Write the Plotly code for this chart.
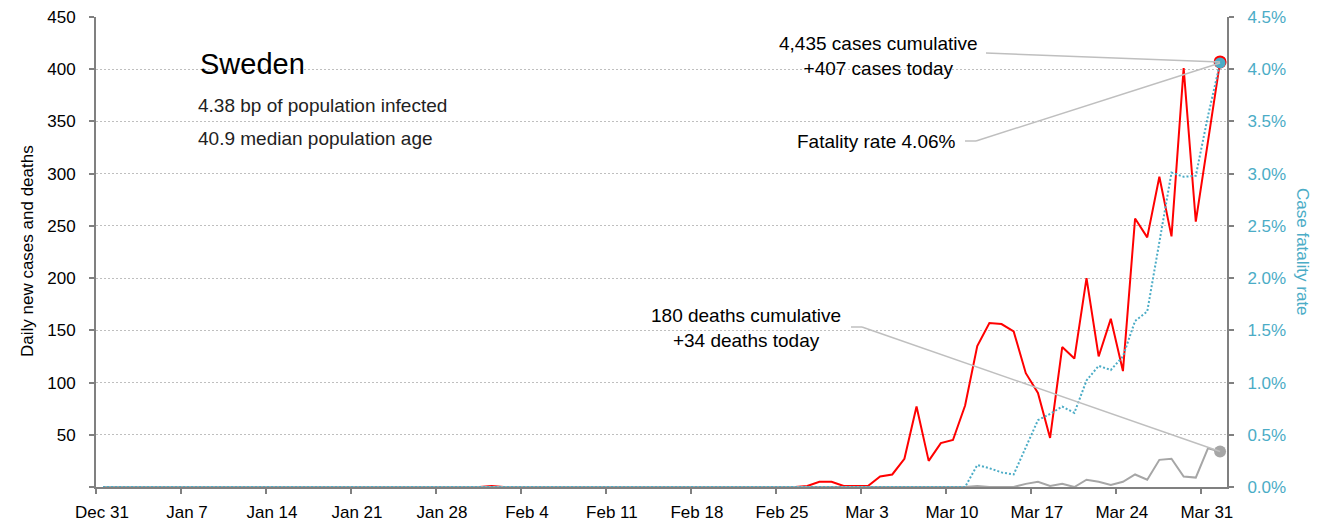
"""Sweden - daily new cases, deaths and case fatality rate"""

import pandas as pd
import plotly.graph_objects as go

# ---- data ----
dates = pd.date_range("2019-12-31", "2020-04-01", freq="D")

# daily new cases
cases = (
    [0] * 32 + [1] + [0] * 25
    + [1, 5, 5, 1, 1, 1, 10, 12, 27, 77, 25, 42, 45, 78, 135, 157, 156, 149,
       109, 90, 47, 134, 123, 200, 125, 161, 111, 257, 239, 297, 240, 401, 254, 330, 407]
)

# daily new deaths
deaths = (
    [0] * 72
    + [1, 0, 0, 0, 3, 5, 1, 3, 0, 7, 5, 2, 5, 12, 7, 26, 27, 10, 9, 37, 34]
)

# case fatality rate (cumulative deaths / cumulative cases)
fatality_rate = (
    [0] * 72
    + [0.0021, 0.0018, 0.0014, 0.0012, 0.0038, 0.0064, 0.0070, 0.0077, 0.0071,
       0.0102, 0.0116, 0.0112, 0.0125, 0.0159, 0.0168, 0.0235, 0.0301, 0.0297,
       0.0298, 0.0355, 0.0406]
)

tick_dates = pd.date_range("2019-12-31", "2020-03-31", freq="7D")
tick_labels = [f"{d:%b} {d.day}" for d in tick_dates]

country = "Sweden"
infected_bp = "4.38"
median_age = "40.9"
cum_cases = 4435
cum_deaths = 180

FONT = "Liberation Sans"
RED = "#ff0000"
GREY = "#a6a6a6"
TEAL = "#4bacc6"
AXIS = "#808080"
LEADER = "#bfbfbf"

# plot area in pixels (for placing leader lines / labels)
PX_L, PX_R, PX_T, PX_B = 96, 1227, 17, 487
x_start = dates[0] - pd.Timedelta(hours=14)
x_end = dates[-1] + pd.Timedelta(hours=13.7)


def px_x(px):
    return x_start + (x_end - x_start) * ((px - PX_L) / (PX_R - PX_L))


def px_y(py, top=450):
    return (PX_B - py) / (PX_B - PX_T) * top


fig = go.Figure()

fig.add_trace(go.Scatter(x=dates, y=cases, mode="lines", name="Cases",
                         line=dict(color=RED, width=2)))
fig.add_trace(go.Scatter(x=dates, y=deaths, mode="lines", name="Deaths",
                         line=dict(color=GREY, width=2)))
fig.add_trace(go.Scatter(x=dates, y=fatality_rate, mode="lines", name="Fatality rate",
                         yaxis="y2", line=dict(color=TEAL, width=2, dash="2px,2px")))

# end-of-series dots
fig.add_trace(go.Scatter(x=[dates[-1]], y=[cases[-1]], mode="markers",
                         marker=dict(size=13, color=RED)))
fig.add_trace(go.Scatter(x=[dates[-1]], y=[deaths[-1]], mode="markers",
                         marker=dict(size=12, color=GREY)))
fig.add_trace(go.Scatter(x=[dates[-1]], y=[fatality_rate[-1]], mode="markers",
                         yaxis="y2", marker=dict(size=11, color=TEAL)))

# leader lines
shapes = [
    dict(type="line", xref="x", yref="y", x0=px_x(986), y0=px_y(53),
         x1=dates[-1], y1=cases[-1]),
    dict(type="line", xref="x", yref="y", x0=px_x(965), y0=px_y(141),
         x1=px_x(976), y1=px_y(141)),
    dict(type="line", xref="x", yref="y2", x0=px_x(976), y0=px_y(141, 0.045),
         x1=dates[-1], y1=fatality_rate[-1]),
    dict(type="line", xref="x", yref="y", x0=px_x(851), y0=px_y(327),
         x1=px_x(862), y1=px_y(327)),
    dict(type="line", xref="x", yref="y", x0=px_x(862), y0=px_y(327),
         x1=dates[-1], y1=deaths[-1]),
]
for s in shapes:
    s["line"] = dict(color=LEADER, width=1.5)
    s["layer"] = "above"


def paper_x(px):
    return (px - PX_L) / (PX_R - PX_L)


def paper_y(py):
    return (PX_B - py) / (PX_B - PX_T)


annotations = [
    dict(text=country, x=paper_x(198), y=paper_y(64), xanchor="left", yanchor="middle",
         font=dict(size=29, color="#000000")),
    dict(text=f"{infected_bp} bp of population infected", x=paper_x(196), y=paper_y(105),
         xanchor="left", yanchor="middle", font=dict(size=19, color="#222222")),
    dict(text=f"{median_age} median population age", x=paper_x(196), y=paper_y(138),
         xanchor="left", yanchor="middle", font=dict(size=19, color="#222222")),
    dict(text=f"{cum_cases:,} cases cumulative<br>+{cases[-1]} cases today",
         x=paper_x(878), y=paper_y(56), xanchor="center", yanchor="middle",
         font=dict(size=19, color="#000000")),
    dict(text=f"Fatality rate {fatality_rate[-1]:.2%}", x=paper_x(958), y=paper_y(141),
         xanchor="right", yanchor="middle", font=dict(size=19, color="#000000")),
    dict(text=f"{cum_deaths} deaths cumulative<br>+{deaths[-1]} deaths today",
         x=paper_x(746), y=paper_y(328), xanchor="center", yanchor="middle",
         font=dict(size=19, color="#000000")),
    # axis titles
    dict(text="Daily new cases and deaths", x=paper_x(27), y=paper_y(251),
         textangle=-90, xanchor="center", yanchor="middle",
         font=dict(size=17, color="#000000")),
    dict(text="Case fatality rate", x=paper_x(1303), y=paper_y(252),
         textangle=90, xanchor="center", yanchor="middle",
         font=dict(size=17, color=TEAL)),
]
for a in annotations:
    a.update(xref="paper", yref="paper", showarrow=False)

fig.update_layout(
    width=1327,
    height=526,
    margin=dict(l=PX_L, r=1327 - PX_R, t=PX_T, b=526 - PX_B),
    paper_bgcolor="white",
    plot_bgcolor="white",
    showlegend=False,
    font=dict(family=FONT, size=17, color="#000000"),
    shapes=shapes,
    annotations=annotations,
    xaxis=dict(
        range=[x_start, x_end],
        tickvals=[d - pd.Timedelta(hours=14) for d in tick_dates],
        ticktext=tick_labels,
        ticks="outside", ticklen=5, tickwidth=2, tickcolor=AXIS,
        ticklabelshift=6, ticklabelstandoff=4,
        showline=True, linecolor=AXIS, linewidth=2,
        showgrid=False, zeroline=False, automargin=False,
        layer="below traces",
    ),
    yaxis=dict(
        range=[0, 450],
        tickvals=list(range(0, 451, 50)),
        ticktext=[""] + [str(v) for v in range(50, 451, 50)],
        ticks="outside", ticklen=5, tickwidth=2, tickcolor=AXIS,
        ticklabelstandoff=10,
        showline=True, linecolor=AXIS, linewidth=2,
        showgrid=True, gridcolor=LEADER, gridwidth=1, griddash="2px,2px",
        zeroline=False, automargin=False,
        layer="below traces",
    ),
    yaxis2=dict(
        overlaying="y", side="right",
        range=[0, 0.045], dtick=0.005, tickformat=".1%",
        tickfont=dict(color=TEAL),
        ticks="outside", ticklen=5, tickwidth=2, tickcolor=AXIS,
        ticklabelstandoff=10,
        showline=True, linecolor=AXIS, linewidth=2,
        showgrid=False, zeroline=False, automargin=False,
        layer="below traces",
    ),
)

fig.write_html("out.html", config={"displayModeBar": False},
               post_script="document.body.style.margin='0';")
